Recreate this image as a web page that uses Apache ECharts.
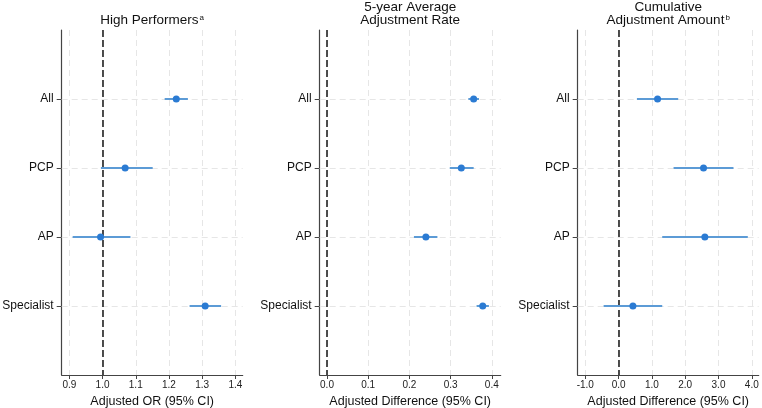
<!DOCTYPE html>
<html>
<head>
<meta charset="utf-8">
<script src="https://cdn.jsdelivr.net/npm/echarts@6/dist/echarts.min.js"></script>
<style>html,body{margin:0;padding:0;background:#fff}#c{width:762px;height:408px}</style>
</head>
<body>
<div id="c"></div>
<script>
// ---- data ----
const categories = ['All', 'PCP', 'AP', 'Specialist'];
const catPos = [1, 2, 3, 4];

const hpEst = [1.222, 1.068, 0.994, 1.309];
const hpLo  = [1.187, 0.995, 0.910, 1.262];
const hpHi  = [1.257, 1.151, 1.084, 1.357];

const rateEst = [0.356, 0.326, 0.240, 0.378];
const rateLo  = [0.343, 0.298, 0.211, 0.363];
const rateHi  = [0.369, 0.356, 0.268, 0.393];

const amtEst = [1.17, 2.55, 2.59, 0.43];
const amtLo  = [0.55, 1.65, 1.31, -0.45];
const amtHi  = [1.79, 3.45, 3.88, 1.31];

const hpTicks   = [0.9, 1.0, 1.1, 1.2, 1.3, 1.4];
const rateTicks = [0.0, 0.1, 0.2, 0.3, 0.4];
const amtTicks  = [-1.0, 0.0, 1.0, 2.0, 3.0, 4.0];

const refValues = [1.0, 0.0, 0.0];

const titles = ['{t|High Performers}{s|a}', '{t|5-year Average}\n{t|Adjustment Rate}', '{t|Cumulative}\n{t|Adjustment Amount}{s|b}'];
const axisNames = ['Adjusted OR (95% CI)', 'Adjusted Difference (95% CI)', 'Adjusted Difference (95% CI)'];

// ---- layout ----
const FONT = "'Liberation Sans', Arial, Helvetica, sans-serif";
const panels = [
  {est: hpEst, lo: hpLo, hi: hpHi, ticks: hpTicks, min: 0.877, max: 1.422, left: 61.7, titleTop: 13.5},
  {est: rateEst, lo: rateLo, hi: rateHi, ticks: rateTicks, min: -0.0177, max: 0.4216, left: 319.7, titleTop: 0.5},
  {est: amtEst, lo: amtLo, hi: amtHi, ticks: amtTicks, min: -1.228, max: 4.207, left: 577.7, titleTop: 0.5}
];
const W = 181, TOP = 30, H = 345;

const grid = [], xAxis = [], yAxis = [], series = [], title = [];
const richStyle = {
  t: {fontSize: 13.5, fontFamily: FONT, fontWeight: 'normal', color: '#111', lineHeight: 13},
  s: {fontSize: 8, fontFamily: FONT, fontWeight: 'normal', color: '#111', lineHeight: 8, verticalAlign: 'top', padding: [0, 0, 0, 1]}
};

panels.forEach((p, i) => {
  grid.push({left: p.left, top: TOP, width: W, height: H, containLabel: false, outerBoundsMode: 'none'});
  title.push({
    text: titles[i], left: p.left + W / 2, top: p.titleTop, textAlign: 'center', padding: 0,
    textStyle: {fontWeight: 'normal', rich: richStyle}
  });
  xAxis.push({
    type: 'value', gridIndex: i, min: p.min, max: p.max,
    axisLine: {show: true, onZero: false, lineStyle: {color: '#444', width: 1.2}},
    axisTick: {show: true, customValues: p.ticks, length: 4, lineStyle: {color: '#444'}},
    axisLabel: {customValues: p.ticks, formatter: v => v.toFixed(1), fontSize: 10, fontFamily: FONT, color: '#222', margin: 5},
    splitLine: {show: false},
    name: axisNames[i], nameLocation: 'middle', nameGap: 18,
    nameTextStyle: {fontSize: 12.5, fontFamily: FONT, color: '#111'}
  });
  yAxis.push({
    type: 'value', gridIndex: i, min: 0, max: 5, inverse: true,
    axisLine: {show: true, onZero: false, lineStyle: {color: '#444', width: 1.2}},
    axisTick: {show: true, customValues: catPos, length: 5, lineStyle: {color: '#444'}},
    axisLabel: {customValues: catPos, formatter: v => categories[v - 1] || '', fontSize: 12, fontFamily: FONT, color: '#111', margin: 8},
    splitLine: {show: false}
  });
  const gridLines = [];
  p.ticks.forEach(t => gridLines.push({xAxis: t}));
  catPos.forEach(c => gridLines.push({yAxis: c}));
  series.push({
    type: 'line', xAxisIndex: i, yAxisIndex: i, data: [], z: 1, silent: true,
    markLine: {
      z: 1, silent: true, symbol: 'none', animation: false, label: {show: false},
      lineStyle: {color: '#e6e6e6', width: 1, type: [6, 4]},
      data: gridLines
    }
  });
  series.push({
    type: 'line', xAxisIndex: i, yAxisIndex: i, data: [], z: 2, silent: true,
    markLine: {
      z: 2, silent: true, symbol: 'none', animation: false, label: {show: false},
      lineStyle: {color: '#222', width: 1.6, type: [7, 3]},
      data: [{xAxis: refValues[i]}]
    }
  });
  series.push({
    type: 'custom', xAxisIndex: i, yAxisIndex: i, z: 8, silent: true,
    encode: {x: [0, 1], y: 2},
    data: catPos.map((c, k) => [p.lo[k], p.hi[k], c]),
    renderItem: (params, api) => {
      const y = api.value(2);
      const a = api.coord([api.value(0), y]);
      const b = api.coord([api.value(1), y]);
      return {type: 'line', shape: {x1: a[0], y1: a[1], x2: b[0], y2: b[1]}, style: {stroke: '#5c9bd6', lineWidth: 2}};
    }
  });
  series.push({
    type: 'scatter', xAxisIndex: i, yAxisIndex: i, z: 9, silent: true,
    symbol: 'circle', symbolSize: 7, itemStyle: {color: '#2b7bd3', opacity: 1},
    data: catPos.map((c, k) => [p.est[k], c])
  });
});

const chart = echarts.init(document.getElementById('c'), null, {renderer: 'canvas'});
chart.setOption({animation: false, backgroundColor: '#fff', title, grid, xAxis, yAxis, series});
</script>
</body>
</html>
